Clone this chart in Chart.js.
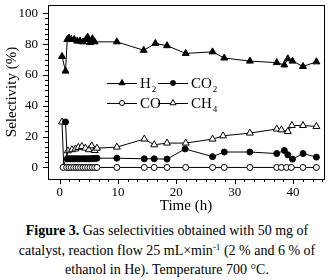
<!DOCTYPE html>
<html>
<head>
<meta charset="utf-8">
<script src="https://cdn.jsdelivr.net/npm/chart.js@4.4.1/dist/chart.umd.min.js"></script>
<style>
  html, body { margin: 0; padding: 0; background: #fff; }
  #wrap { position: relative; width: 334px; height: 280px; }
  #chart { position: absolute; left: 0; top: 0; }
  #caption {
    position: absolute; left: 0; top: 221px; width: 334px;
    font-family: 'Liberation Serif', serif; font-size: 14px; line-height: 19.5px;
    text-align: center; color: #000; white-space: nowrap;
  }
  #caption sup { font-size: 9px; line-height: 0; vertical-align: 5px; }
</style>
</head>
<body>
<div id="wrap">
  <canvas id="chart" width="334" height="215"></canvas>
  <div id="caption"><b>Figure 3.</b> Gas selectivities obtained with 50 mg of<br>catalyst, reaction flow 25 mL×min<sup>-1</sup> (2 % and 6 % of<br>ethanol in He). Temperature 700 °C.</div>
</div>
<script>
// time (h) and selectivity (%)
const tiempoH2 = [0.4, 1.0, 1.3, 1.6, 2.0, 2.5, 3.0, 3.5, 4.0, 4.5, 4.8, 5.2, 5.6, 6.0, 9.8, 14.4, 16.4, 18.4, 21.6, 26.2, 28.2, 32.6, 37.2, 38.5, 39.1, 39.9, 41.7, 44.0];
const valoresH2 = [72, 62.5, 83, 84, 83, 83, 82, 82, 81.5, 83, 84.5, 81, 83.5, 81.5, 81.5, 76, 80.5, 79, 74, 75, 71, 69, 68, 66.5, 70.5, 69, 65.5, 68.5];

const tiempoCO2 = [1.0, 1.3, 1.6, 1.9, 2.2, 2.5, 2.8, 3.1, 3.4, 3.7, 4.0, 4.3, 4.6, 4.9, 5.2, 5.5, 5.8, 6.1, 6.4, 9.8, 14.5, 16.2, 18.4, 21.5, 26.2, 28.2, 32.6, 37.2, 38.5, 39.1, 39.9, 41.7, 44.0];
const valoresCO2 = [29.5, 5.6, 5.6, 5.6, 5.6, 5.6, 5.6, 5.6, 5.6, 5.6, 5.6, 5.6, 5.6, 5.6, 5.6, 5.6, 5.8, 5.8, 6, 6, 5.6, 5.6, 5.4, 12, 7, 10, 10, 9, 11, 8.2, 5.4, 9, 6.7];

const tiempoCO = [0.6, 1.2, 1.6, 2.0, 2.4, 2.8, 3.2, 3.6, 4.0, 4.4, 4.8, 5.2, 5.6, 6.0, 6.4, 9.8, 14.5, 16.2, 18.4, 21.6, 26.2, 28.2, 32.6, 37.2, 38.0, 38.9, 39.7, 41.7, 44.0];
const valoresCO = [0, 0, 0, 0, 0, 0, 0, 0, 0, 0, 0, 0, 0, 0, 0, 0, 0, 0, 0, 0, 0, 0, 0, 0, 0, 0, 0, 0, 0];

const tiempoCH4 = [0.4, 0.7, 1.4, 2.1, 2.7, 3.2, 3.8, 4.4, 5.0, 5.5, 6.0, 6.4, 9.8, 14.5, 16.2, 18.4, 21.6, 26.2, 28.0, 32.6, 37.2, 38.0, 39.1, 39.8, 41.7, 44.0];
const valoresCH4 = [29.5, 0.5, 10.8, 11.5, 12, 13, 13.6, 12.5, 11.5, 14, 11, 12.5, 13.2, 18.4, 14.7, 15.8, 15.8, 18.4, 20.5, 22.3, 24.9, 24.4, 23.3, 27.2, 27.2, 26.6];

const ticksX = [0, 10, 20, 30, 40];
const ticksY = [0, 20, 40, 60, 80, 100];

const serif = "'Liberation Serif', 'Times New Roman', serif";

function puntos(ts, vs) {
    return ts.map((t, i) => ({ x: t, y: vs[i] }));
}

function serie(label, ts, vs, estilo, relleno, radio) {
    return {
        label: label,
        data: puntos(ts, vs),
        showLine: true,
        borderColor: '#000',
        borderWidth: 1,
        pointStyle: estilo,
        pointRadius: radio,
        pointBorderWidth: 1,
        pointBackgroundColor: relleno,
        pointBorderColor: '#000'
    };
}

// frame, major and minor ticks, in-plot legend with subscripts
const marcoPlugin = {
    id: 'marco',
    afterDraw(chart) {
        const ctx = chart.ctx;
        const a = chart.chartArea;
        const sx = chart.scales.x, sy = chart.scales.y;
        ctx.save();
        ctx.strokeStyle = '#000';
        ctx.lineWidth = 1;
        ctx.strokeRect(Math.round(a.left) + 0.5, Math.round(a.top) + 0.5, Math.round(a.right - a.left), Math.round(a.bottom - a.top));

        ctx.beginPath();
        for (let i = 0; i <= 6 * 5; i++) {
            const v = i * 10 / 6;
            if (v > sx.max) break;
            const px = Math.round(sx.getPixelForValue(v)) + 0.5;
            const len = i % 6 === 0 ? 5 : 3;
            ctx.moveTo(px, a.bottom);
            ctx.lineTo(px, a.bottom + len);
        }
        for (let i = 0; i <= 6 * 5; i++) {
            const v = i * 20 / 6;
            if (v > sy.max) break;
            const py = Math.round(sy.getPixelForValue(v)) + 0.5;
            const len = i % 6 === 0 ? 5 : 3;
            ctx.moveTo(a.left, py);
            ctx.lineTo(a.left - len, py);
        }
        ctx.stroke();

        // legend
        const items = [
            { ds: 0, x: 107, y: 83, base: 'H', sub: '2' },
            { ds: 1, x: 158, y: 83, base: 'CO', sub: '2' },
            { ds: 2, x: 107, y: 103, base: 'CO', sub: '' },
            { ds: 3, x: 158, y: 103, base: 'CH', sub: '4' }
        ];
        items.forEach(it => {
            const d = chart.data.datasets[it.ds];
            ctx.beginPath();
            ctx.moveTo(it.x, it.y + 0.5);
            ctx.lineTo(it.x + 30, it.y + 0.5);
            ctx.stroke();
            ctx.fillStyle = d.pointBackgroundColor;
            Chart.helpers.drawPoint(ctx, { pointStyle: d.pointStyle, radius: d.pointRadius - 0.5, borderWidth: 1 }, it.x + 15, it.y);
            ctx.fillStyle = '#000';
            ctx.font = '15px ' + serif;
            ctx.textBaseline = 'middle';
            ctx.textAlign = 'left';
            ctx.fillText(it.base, it.x + 33, it.y + 1);
            const w = ctx.measureText(it.base).width;
            if (it.sub) {
                ctx.font = '9px ' + serif;
                ctx.fillText(it.sub, it.x + 34 + w, it.y + 7);
            }
        });
        ctx.restore();
    }
};

new Chart(document.getElementById('chart'), {
    type: 'scatter',
    data: {
        datasets: [
            serie('H2', tiempoH2, valoresH2, 'triangle', '#000', 4),
            serie('CO2', tiempoCO2, valoresCO2, 'circle', '#000', 3),
            serie('CO', tiempoCO, valoresCO, 'circle', '#fff', 3),
            serie('CH4', tiempoCH4, valoresCH4, 'triangle', '#fff', 4)
        ]
    },
    options: {
        responsive: false,
        animation: false,
        layout: { padding: { left: 0, right: 10, top: 5, bottom: 0 } },
        plugins: {
            legend: { display: false },
            tooltip: { enabled: false }
        },
        scales: {
            x: {
                type: 'linear',
                min: -2,
                max: 45.3,
                afterBuildTicks: s => { s.ticks = ticksX.map(v => ({ value: v })); },
                afterFit: s => { s.height = 36; s.paddingLeft = 0; s.paddingRight = 0; },
                grid: { display: false, drawTicks: false },
                border: { display: false },
                ticks: { color: '#000', padding: 6, font: { family: serif, size: 13 } },
                title: { display: true, text: 'Time (h)', color: '#000', padding: { top: 0, bottom: 0 }, font: { family: serif, size: 15 } }
            },
            y: {
                type: 'linear',
                min: -7.5,
                max: 105.4,
                afterBuildTicks: s => { s.ticks = ticksY.map(v => ({ value: v })); },
                afterFit: s => { s.width = 48; s.paddingTop = 0; s.paddingBottom = 0; },
                grid: { display: false, drawTicks: false },
                border: { display: false },
                ticks: { color: '#000', padding: 10, font: { family: serif, size: 13 } },
                title: { display: true, text: 'Selectivity (%)', color: '#000', padding: { top: 3, bottom: 0 }, font: { family: serif, size: 15 } }
            }
        }
    },
    plugins: [marcoPlugin]
});
</script>
</body>
</html>
